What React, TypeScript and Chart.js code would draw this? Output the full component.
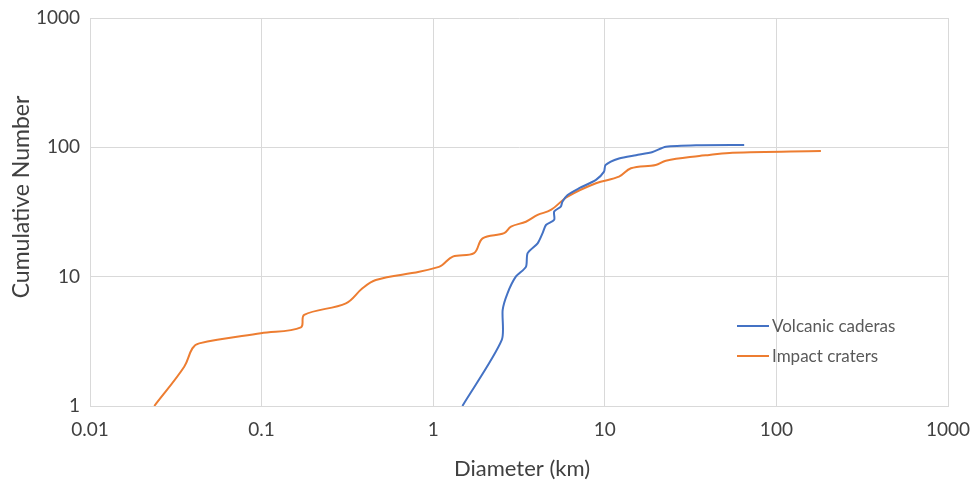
import React, { useEffect, useRef } from "react";
import { Chart, registerables } from "chart.js";

Chart.register(...registerables);

const volcanicD = [1.48, 2.51, 2.54, 2.71, 3.03, 3.47, 3.55, 4.06, 4.34, 4.54, 5.07, 5.07, 5.54, 5.66, 6.07, 7.1, 8.88, 9.9, 10.1, 12.1, 15.2, 19.0, 22.7, 35.5, 64.9];
const volcanicN = [1, 3.24, 5.53, 7.44, 10.0, 11.9, 15.2, 18.1, 21.7, 25.1, 27.5, 31.9, 34.8, 38.0, 42.8, 48.3, 56.0, 64.9, 73, 81.9, 87, 92, 101, 104, 104.4];

const impactD = [0.0237, 0.0354, 0.0395, 0.0433, 0.099, 0.1695, 0.177, 0.31, 0.387, 0.463, 0.829, 1.08, 1.13, 1.3, 1.73, 1.94, 2.59, 2.84, 3.47, 4.06, 4.85, 6.07, 8.88, 12.1, 14.2, 19.8, 22.7, 35.5, 40.6, 55.5, 181.7];
const impactN = [1, 2.01, 2.79, 3.05, 3.65, 4.06, 5.06, 6.22, 8.13, 9.43, 10.9, 11.9, 12.3, 14.3, 15.2, 19.8, 21.7, 24.4, 26.6, 30.0, 32.8, 41.6, 52.8, 59.3, 68.9, 73.1, 78.8, 85.8, 87.3, 91, 93.8];

const xTicks = [0.01, 0.1, 1, 10, 100, 1000];
const yTicks = [1, 10, 100, 1000];
const seriesNames = ["Volcanic caderas", "Impact craters"];
const seriesColors = ["#4472C4", "#ED7D31"];
const xTitle = "Diameter (km)";
const yTitle = "Cumulative Number";

const FONT = "Lato, 'Open Sans', sans-serif";

const decorPlugin = {
  id: "decor",
  afterDraw(chart: any) {
    const ctx = chart.ctx;
    const area = chart.chartArea;
    ctx.save();
    // axis titles
    ctx.fillStyle = "#404040";
    ctx.textAlign = "center";
    ctx.textBaseline = "middle";
    ctx.font = `22px ${FONT}`;
    ctx.fillText(xTitle, (area.left + area.right) / 2 + 3, 469);
    ctx.save();
    ctx.translate(22, 197);
    ctx.rotate(-Math.PI / 2);
    ctx.font = `23px ${FONT}`;
    ctx.fillText(yTitle, 0, 0);
    ctx.restore();
    // legend inside plot area
    const x0 = area.right - 211;
    const yStart = area.top + 308;
    chart.data.datasets.forEach((ds: any, i: number) => {
      const y = yStart + i * 30;
      ctx.strokeStyle = ds.borderColor;
      ctx.lineWidth = 2;
      ctx.beginPath();
      ctx.moveTo(x0, y);
      ctx.lineTo(x0 + 32, y);
      ctx.stroke();
      ctx.fillStyle = "#595959";
      ctx.font = `17px ${FONT}`;
      ctx.textBaseline = "middle";
      ctx.textAlign = "left";
      ctx.fillText(ds.label, x0 + 35, y + 1);
    });
    ctx.restore();
  },
};

export default function App() {
  const ref = useRef<HTMLCanvasElement | null>(null);
  useEffect(() => {
    document.body.style.margin = "0";
    const toPts = (xs: number[], ys: number[]) => xs.map((x, i) => ({ x, y: ys[i] }));
    const chart = new Chart(ref.current as HTMLCanvasElement, {
      type: "line",
      data: {
        datasets: [
          {
            label: seriesNames[0],
            data: toPts(volcanicD, volcanicN),
            borderColor: seriesColors[0],
            backgroundColor: seriesColors[0],
            borderWidth: 2,
            pointRadius: 0,
            tension: 0.25,
          },
          {
            label: seriesNames[1],
            data: toPts(impactD, impactN),
            borderColor: seriesColors[1],
            backgroundColor: seriesColors[1],
            borderWidth: 2,
            pointRadius: 0,
            tension: 0.35,
          },
        ],
      },
      options: {
        animation: false,
        responsive: false,
        layout: { padding: { top: 18, right: 27, left: 0, bottom: 0 } },
        plugins: { legend: { display: false }, tooltip: { enabled: false } },
        scales: {
          x: {
            type: "logarithmic",
            min: 0.01,
            max: 1000,
            afterBuildTicks: (s: any) => {
              s.ticks = xTicks.map((v) => ({ value: v }));
            },
            afterFit: (s: any) => {
              s.height = 79;
              s.paddingLeft = 0;
              s.paddingRight = 0;
            },
            ticks: {
              autoSkip: false,
              maxRotation: 0,
              padding: 12,
              color: "#404040",
              font: { family: FONT, size: 19 },
              callback: (v: any) => String(v),
            },
            grid: { color: "#d9d9d9", drawTicks: false },
            border: { color: "#d9d9d9" },
            title: { display: false, text: xTitle },
          },
          y: {
            type: "logarithmic",
            min: 1,
            max: 1000,
            afterBuildTicks: (s: any) => {
              s.ticks = yTicks.map((v) => ({ value: v }));
            },
            afterFit: (s: any) => {
              s.width = 90;
              s.paddingTop = 0;
              s.paddingBottom = 0;
            },
            ticks: {
              autoSkip: false,
              padding: 10,
              color: "#404040",
              font: { family: FONT, size: 19 },
              callback: (v: any) => String(v),
            },
            grid: { color: "#d9d9d9", drawTicks: false },
            border: { color: "#d9d9d9" },
            title: { display: false, text: yTitle },
          },
        },
      },
      plugins: [decorPlugin],
    } as any);
    return () => chart.destroy();
  }, []);
  return (
    <div style={{ width: 975, height: 485, background: "#fff" }}>
      <canvas ref={ref} width={975} height={485} style={{ display: "block" }} />
    </div>
  );
}
